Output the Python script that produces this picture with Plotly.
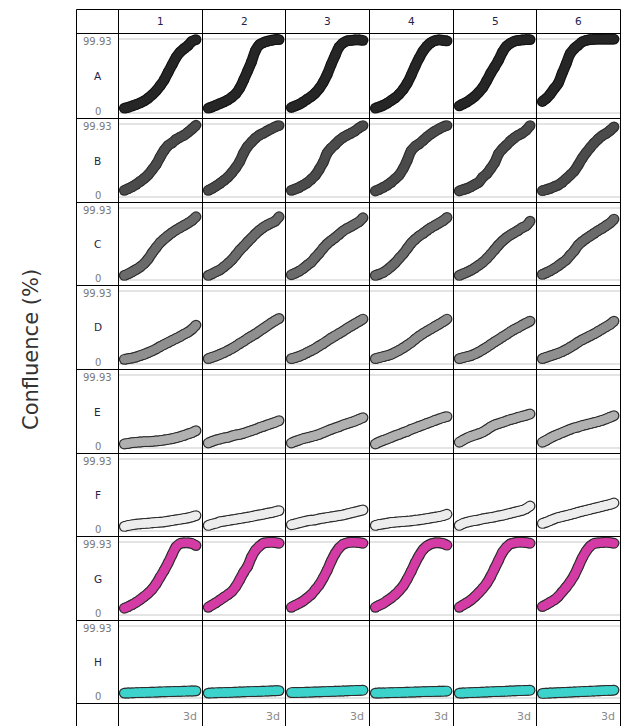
import plotly.graph_objects as go

W, H = 624, 726

# ---------------- data ----------------
TIME_H = [0, 4, 8, 12, 16, 20, 24, 28, 32, 36, 40, 44, 48, 52, 56, 60, 64, 68, 72]
ROWS = ["A", "B", "C", "D", "E", "F", "G", "H"]
COLS = ["1", "2", "3", "4", "5", "6"]
Y_TICKS = [0, 99.93]
Y_TICK_LABELS = ["0", "99.93"]
X_END_LABEL = "3d"

ROW_A = [
    [6.4, 7.7, 9.5, 11.4, 13.6, 16.3, 20.0, 24.5, 30.0, 36.8, 44.5, 55.0, 65.0, 75.0, 82.0, 86.7, 91.0, 96.7, 99.0],
    [6.4, 8.2, 10.4, 12.7, 15.0, 17.7, 21.3, 25.9, 33.5, 44.5, 56.5, 69.0, 84.0, 92.0, 94.9, 96.7, 98.0, 99.0, 99.0],
    [7.3, 9.5, 11.8, 15.0, 18.6, 22.2, 26.8, 33.0, 41.3, 51.8, 65.4, 77.6, 89.0, 94.4, 97.2, 98.0, 98.5, 98.5, 98.0],
    [6.4, 8.2, 10.4, 13.2, 16.8, 20.4, 25.4, 31.8, 40.0, 50.8, 63.0, 74.0, 83.5, 90.3, 94.9, 97.6, 98.5, 98.0, 97.2],
    [9.5, 12.3, 15.0, 18.6, 22.7, 28.1, 34.5, 43.6, 53.6, 62.2, 71.3, 82.2, 89.9, 94.0, 96.7, 98.0, 98.5, 99.0, 99.0],
    [15.4, 19.5, 25.4, 33.0, 40.0, 53.6, 66.3, 80.0, 86.7, 91.3, 95.8, 98.0, 99.0, 99.4, 99.6, 99.6, 99.7, 99.7, 99.7],
]
ROW_B = [
    [9.1, 11.4, 14.1, 17.3, 21.3, 25.4, 30.4, 37.2, 44.5, 54.5, 63.6, 70.4, 74.0, 78.5, 81.7, 84.4, 88.5, 93.0, 98.0],
    [9.1, 11.8, 15.0, 18.6, 22.7, 27.2, 33.1, 40.0, 48.5, 60.0, 69.0, 74.9, 80.4, 84.4, 87.2, 90.3, 93.0, 95.8, 97.6],
    [9.1, 10.9, 13.2, 16.3, 19.5, 24.1, 29.5, 37.7, 47.2, 59.9, 66.7, 71.7, 77.2, 81.3, 84.4, 87.2, 90.3, 94.4, 97.6],
    [8.2, 10.4, 13.2, 16.3, 20.0, 25.0, 30.0, 38.6, 49.9, 63.1, 69.0, 72.6, 77.2, 82.2, 86.3, 89.9, 93.0, 95.8, 97.6],
    [8.2, 10.0, 11.8, 14.1, 17.3, 20.4, 27.2, 31.8, 39.0, 46.8, 59.0, 65.8, 70.8, 76.3, 80.8, 84.4, 87.2, 91.3, 97.6],
    [8.6, 10.0, 11.8, 14.1, 16.3, 20.0, 25.0, 30.0, 35.4, 43.6, 52.7, 60.4, 67.2, 73.5, 79.0, 83.5, 86.7, 90.8, 95.8],
]
ROW_C = [
    [6.4, 8.7, 11.5, 14.7, 18.3, 22.9, 29.3, 37.6, 44.9, 51.8, 56.8, 61.4, 65.5, 69.2, 72.4, 75.6, 78.8, 82.4, 87.5],
    [6.4, 8.7, 11.5, 14.2, 18.3, 22.9, 27.9, 34.4, 41.2, 46.7, 52.7, 58.2, 63.7, 68.7, 72.8, 76.0, 78.8, 81.5, 87.5],
    [7.3, 9.6, 12.4, 16.0, 20.6, 24.7, 31.1, 37.1, 44.0, 49.9, 54.5, 58.6, 63.2, 67.8, 71.4, 74.2, 77.4, 80.6, 86.1],
    [6.4, 8.2, 10.5, 14.2, 18.8, 23.8, 30.2, 36.2, 43.5, 50.8, 56.3, 60.9, 64.6, 68.7, 72.4, 75.6, 78.8, 82.0, 86.6],
    [6.4, 8.7, 11.0, 13.7, 16.9, 20.6, 24.7, 29.8, 35.7, 42.1, 48.5, 54.0, 58.6, 62.3, 65.5, 68.7, 72.4, 75.1, 81.5],
    [7.8, 10.1, 12.8, 16.0, 19.7, 23.8, 27.9, 34.4, 40.3, 48.1, 53.1, 57.3, 60.9, 64.6, 68.2, 71.4, 75.1, 78.8, 84.3],
]
ROW_D = [
    [6.4, 7.3, 8.2, 9.6, 11.5, 13.3, 15.6, 17.9, 20.6, 23.8, 26.6, 29.3, 32.1, 34.8, 37.6, 40.8, 43.5, 47.6, 53.1],
    [7.3, 9.2, 11.0, 13.3, 15.6, 18.3, 21.1, 24.3, 27.9, 31.1, 34.8, 38.0, 41.2, 44.9, 48.5, 52.2, 55.9, 59.1, 62.3],
    [7.3, 8.7, 10.5, 12.8, 15.6, 18.3, 21.1, 24.7, 27.9, 31.6, 35.3, 38.5, 41.7, 44.9, 48.5, 51.8, 55.0, 58.2, 61.4],
    [7.3, 8.7, 10.1, 11.5, 13.3, 16.0, 18.8, 22.0, 25.6, 29.3, 33.9, 38.0, 41.7, 44.9, 48.1, 51.3, 54.5, 57.7, 61.4],
    [7.3, 8.7, 10.1, 11.5, 13.7, 16.5, 19.7, 22.9, 26.6, 30.2, 33.4, 37.1, 40.3, 44.0, 47.2, 49.9, 53.1, 55.9, 58.6],
    [7.3, 9.2, 11.0, 12.8, 14.7, 16.9, 19.7, 22.9, 26.1, 29.8, 33.0, 35.7, 38.5, 41.2, 44.4, 47.6, 50.8, 54.0, 58.6],
]
ROW_E = [
    [5.5, 6.4, 7.3, 7.8, 8.2, 8.7, 8.7, 9.1, 9.6, 10.0, 10.9, 11.9, 12.8, 14.1, 15.5, 17.3, 19.2, 21.0, 23.7],
    [6.8, 9.1, 10.9, 12.3, 13.7, 14.6, 16.4, 17.8, 18.7, 20.1, 21.9, 23.7, 25.5, 27.8, 29.6, 31.5, 33.3, 35.1, 37.4],
    [6.8, 9.1, 10.9, 12.8, 14.1, 15.5, 16.9, 18.7, 21.0, 23.3, 25.5, 27.4, 29.2, 31.5, 33.3, 35.1, 36.9, 39.2, 41.5],
    [5.5, 8.2, 10.5, 12.3, 14.6, 16.9, 18.7, 21.0, 22.8, 25.5, 27.4, 29.6, 31.5, 33.7, 35.6, 37.8, 39.7, 41.5, 42.9],
    [7.8, 10.9, 13.7, 16.0, 17.8, 19.6, 21.9, 25.1, 28.7, 31.5, 33.3, 35.1, 36.9, 38.8, 40.1, 42.0, 43.3, 44.7, 46.5],
    [7.8, 10.5, 13.7, 16.4, 18.7, 21.0, 23.3, 25.5, 27.4, 28.7, 30.6, 31.9, 33.3, 34.7, 36.0, 37.8, 39.7, 42.0, 44.2],
]
ROW_F = [
    [6.4, 7.8, 8.7, 9.6, 10.0, 10.5, 10.9, 11.4, 11.9, 12.3, 12.8, 13.7, 14.6, 15.5, 16.4, 17.3, 18.2, 19.6, 21.4],
    [7.8, 9.6, 10.9, 12.8, 13.7, 14.6, 15.5, 16.4, 17.3, 18.2, 19.2, 20.1, 21.4, 22.3, 23.3, 24.6, 25.5, 26.9, 28.3],
    [8.7, 10.0, 11.4, 12.8, 14.1, 15.0, 15.5, 16.9, 17.8, 18.7, 19.6, 20.5, 21.4, 22.3, 23.7, 25.1, 26.4, 27.8, 29.2],
    [7.8, 9.1, 10.0, 10.9, 11.9, 12.3, 12.8, 13.2, 13.7, 14.1, 15.0, 15.5, 16.4, 17.3, 18.2, 19.2, 20.1, 21.4, 23.3],
    [7.8, 10.5, 12.3, 13.7, 14.6, 15.5, 16.9, 17.8, 18.7, 19.6, 21.0, 21.9, 23.3, 24.6, 26.0, 27.4, 28.7, 31.0, 34.7],
    [10.5, 12.3, 14.6, 16.9, 18.7, 20.1, 21.4, 22.8, 24.2, 26.0, 27.4, 28.7, 30.1, 31.5, 32.8, 34.2, 35.6, 36.9, 38.8],
]
ROW_G = [
    [9.2, 11.5, 14.2, 17.4, 21.1, 25.2, 29.8, 35.3, 42.6, 51.8, 60.9, 71.0, 82.4, 93.0, 97.6, 98.5, 98.5, 97.6, 94.8],
    [10.5, 13.7, 16.9, 20.6, 24.3, 27.9, 32.1, 38.9, 48.1, 58.2, 66.4, 79.2, 88.4, 93.9, 98.0, 98.9, 99.4, 98.9, 98.0],
    [10.5, 13.3, 16.0, 19.2, 23.4, 27.9, 34.4, 41.2, 50.4, 60.9, 73.3, 83.8, 91.6, 96.6, 98.5, 99.4, 99.4, 98.9, 98.0],
    [10.5, 13.3, 16.0, 19.7, 23.4, 27.9, 33.4, 39.8, 49.0, 59.5, 71.0, 81.1, 89.3, 94.3, 97.1, 98.5, 98.5, 97.6, 95.3],
    [10.5, 13.7, 16.9, 20.6, 25.2, 30.7, 36.6, 43.5, 52.7, 63.7, 74.7, 85.6, 92.5, 97.1, 98.5, 99.4, 99.4, 98.9, 98.0],
    [11.5, 14.2, 17.4, 20.6, 25.2, 31.6, 38.0, 45.3, 54.0, 65.5, 77.4, 87.0, 93.9, 97.6, 98.5, 98.9, 99.4, 98.9, 98.0],
]
ROW_H = [
    [6.8, 7.0, 7.2, 7.4, 7.6, 7.8, 8.0, 8.1, 8.3, 8.5, 8.7, 8.8, 9.0, 9.2, 9.3, 9.5, 9.7, 9.8, 10.0],
    [6.8, 7.1, 7.3, 7.5, 7.6, 7.8, 8.0, 8.2, 8.4, 8.6, 8.8, 9.0, 9.1, 9.3, 9.5, 9.7, 9.9, 10.1, 10.3],
    [7.6, 7.7, 7.8, 8.0, 8.1, 8.3, 8.5, 8.6, 8.8, 9.0, 9.2, 9.4, 9.6, 9.8, 10.0, 10.2, 10.4, 10.6, 10.9],
    [6.8, 7.0, 7.1, 7.3, 7.4, 7.6, 7.8, 7.9, 8.1, 8.3, 8.4, 8.6, 8.8, 8.9, 9.1, 9.2, 9.4, 9.5, 9.7],
    [6.8, 7.0, 7.3, 7.5, 7.8, 8.0, 8.2, 8.4, 8.7, 8.9, 9.1, 9.3, 9.5, 9.8, 10.0, 10.2, 10.4, 10.6, 10.9],
    [6.4, 6.7, 7.0, 7.2, 7.5, 7.7, 8.0, 8.2, 8.5, 8.7, 9.0, 9.2, 9.5, 9.7, 10.0, 10.2, 10.5, 10.7, 11.0],
]

WELLS = {"A": ROW_A, "B": ROW_B, "C": ROW_C, "D": ROW_D,
         "E": ROW_E, "F": ROW_F, "G": ROW_G, "H": ROW_H}

# ---------------- style ----------------
ROW_COLORS = {"A": "#262626", "B": "#4b4b4b", "C": "#6b6b6b", "D": "#8f8f8f",
              "E": "#b0b0b0", "F": "#ededed", "G": "#d43ba5", "H": "#3dd3cd"}
OUTLINE = {"A": "#141414"}
OUTLINE_DEFAULT = "#2e2e2e"

# table line pixel positions (line centres)
COL_LINES = [76.5, 118.5, 202.5, 285.5, 369.5, 453.5, 536.5, 620.5]
ROW_LINES = [9.5, 33.5, 118.5, 202.5, 285.5, 369.5, 453.5, 536.5, 620.5, 703.5]

X_RANGE = [-5.8, 78.5]
Y_RANGE = [-7.5, 107.2]

FONT = "DejaVu Sans"

fig = go.Figure()
layout_axes = {}

for i, r in enumerate(ROWS):
    top = ROW_LINES[i + 1]
    bot = ROW_LINES[i + 2]
    for j, c in enumerate(COLS):
        k = i * len(COLS) + j + 1
        xa = "x" if k == 1 else f"x{k}"
        ya = "y" if k == 1 else f"y{k}"
        left = COL_LINES[j + 1]
        right = COL_LINES[j + 2]
        layout_axes["xaxis" if k == 1 else f"xaxis{k}"] = dict(
            domain=[left / W, right / W], range=X_RANGE, anchor=ya,
            showgrid=False, zeroline=False, showticklabels=False,
            showline=False, ticks="", fixedrange=True)
        layout_axes["yaxis" if k == 1 else f"yaxis{k}"] = dict(
            domain=[1 - bot / H, 1 - top / H], range=Y_RANGE, anchor=xa,
            tickvals=Y_TICKS, showgrid=True, gridcolor="#e4e4e4", gridwidth=1.5,
            zeroline=False, showticklabels=False, showline=False, ticks="",
            fixedrange=True)
        vals = WELLS[r][j]
        oc = OUTLINE.get(r, OUTLINE_DEFAULT)
        fig.add_trace(go.Scatter(
            x=TIME_H, y=vals, xaxis=xa, yaxis=ya, mode="lines+markers",
            line=dict(color=oc, width=10.8, shape="spline"),
            marker=dict(color=oc, size=10.8, line=dict(width=0)),
            hoverinfo="skip", showlegend=False, cliponaxis=False))
        fig.add_trace(go.Scatter(
            x=TIME_H, y=vals, xaxis=xa, yaxis=ya, mode="lines+markers",
            line=dict(color=ROW_COLORS[r], width=8.4, shape="spline"),
            marker=dict(color=ROW_COLORS[r], size=8.4, line=dict(width=0)),
            hoverinfo="skip", showlegend=False, cliponaxis=False,
            name=f"{r}{c}"))

shapes = []
for xv in COL_LINES:
    shapes.append(dict(type="line", xref="paper", yref="paper",
                       x0=xv / W, x1=xv / W, y0=1 - ROW_LINES[0] / H, y1=0,
                       line=dict(color="#000000", width=1), layer="above"))
for yv in ROW_LINES:
    shapes.append(dict(type="line", xref="paper", yref="paper",
                       x0=COL_LINES[0] / W, x1=COL_LINES[-1] / W,
                       y0=1 - yv / H, y1=1 - yv / H,
                       line=dict(color="#000000", width=1), layer="above"))

ann = []
# column headers
for j, c in enumerate(COLS):
    xc = (COL_LINES[j + 1] + COL_LINES[j + 2]) / 2
    ann.append(dict(x=xc / W, y=1 - 21.5 / H, xref="paper", yref="paper",
                    text=c, showarrow=False, xanchor="center", yanchor="middle",
                    font=dict(family=FONT, size=10.5, color="#23234a")))
    ann.append(dict(x=(COL_LINES[j + 2] - 4) / W, y=1 - 716 / H, xref="paper", yref="paper",
                    text=X_END_LABEL, showarrow=False, xanchor="right", yanchor="middle",
                    font=dict(family=FONT, size=11, color="#8a8a8a")))
# row labels
xl = (COL_LINES[0] + COL_LINES[1]) / 2
for i, r in enumerate(ROWS):
    top = ROW_LINES[i + 1]
    bot = ROW_LINES[i + 2]
    ann.append(dict(x=xl / W, y=1 - (top + 8) / H, xref="paper", yref="paper",
                    text=Y_TICK_LABELS[1], showarrow=False, xanchor="center", yanchor="middle",
                    font=dict(family=FONT, size=10, color="#7a7a7a")))
    ann.append(dict(x=xl / W, y=1 - (bot - 7.5) / H, xref="paper", yref="paper",
                    text=Y_TICK_LABELS[0], showarrow=False, xanchor="center", yanchor="middle",
                    font=dict(family=FONT, size=10, color="#7a7a7a")))
    ann.append(dict(x=xl / W, y=1 - ((top + bot) / 2) / H, xref="paper", yref="paper",
                    text=r, showarrow=False, xanchor="center", yanchor="middle",
                    font=dict(family=FONT, size=10.5, color="#23234a")))
# axis title
ann.append(dict(x=31 / W, y=1 - 350 / H, xref="paper", yref="paper",
                text="Confluence (%)", showarrow=False, textangle=-90,
                xanchor="center", yanchor="middle",
                font=dict(family="DejaVu Sans", size=21, color="#333333")))

fig.update_layout(
    width=W, height=H, margin=dict(l=0, r=0, t=0, b=0),
    paper_bgcolor="white", plot_bgcolor="white",
    shapes=shapes, annotations=ann, showlegend=False,
    **layout_axes)

fig.write_html("out.html", config={"displayModeBar": False})
